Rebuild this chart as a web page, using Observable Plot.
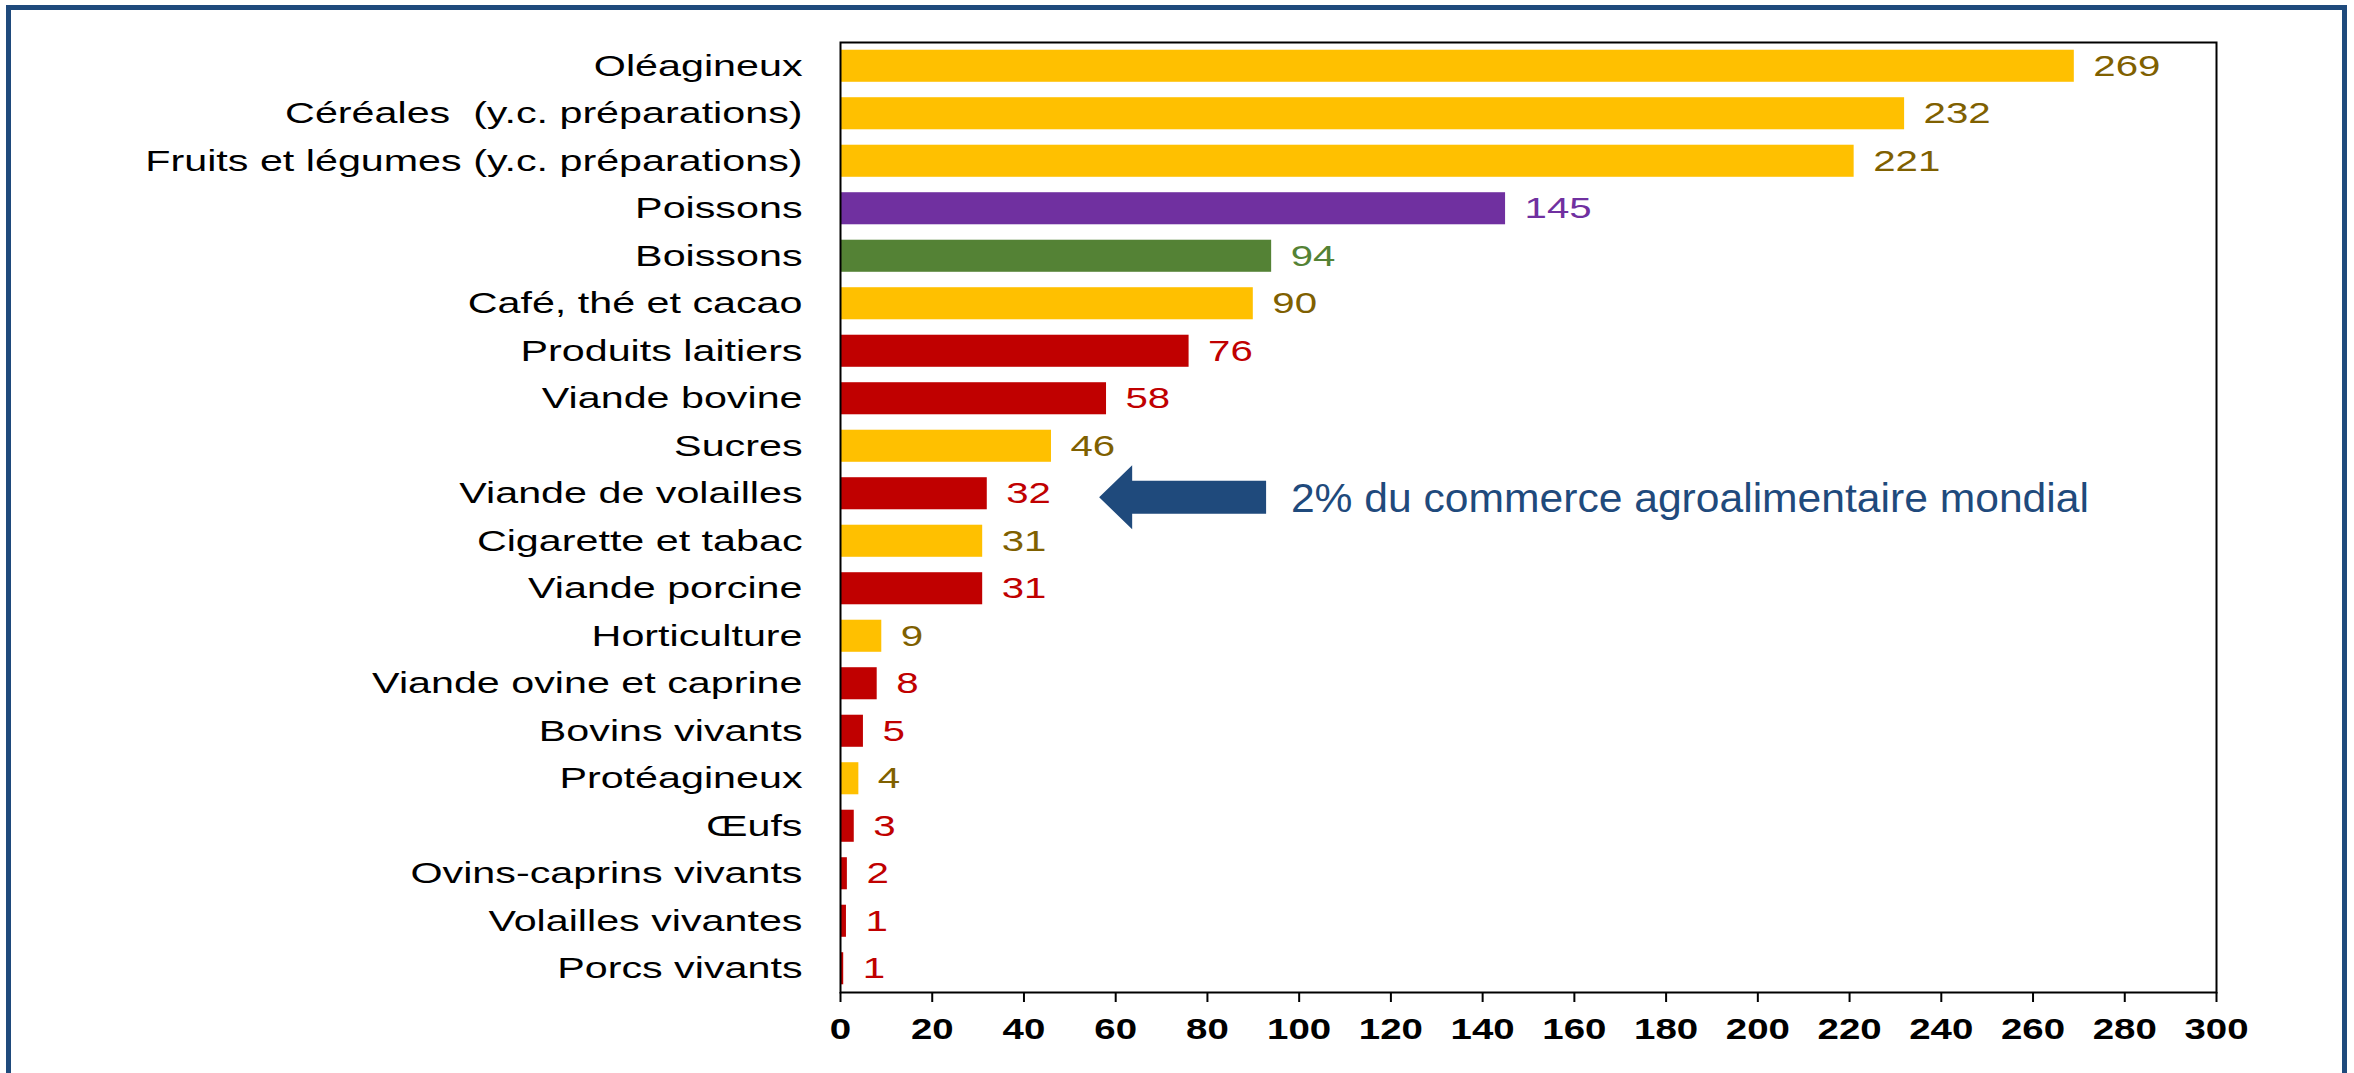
<!DOCTYPE html>
<html><head><meta charset="utf-8">
<script src="https://cdn.jsdelivr.net/npm/d3@7"></script>
<script src="https://cdn.jsdelivr.net/npm/@observablehq/plot@0.6"></script>
<style>
html,body{margin:0;padding:0;background:#fff;overflow:hidden;width:2354px;height:1073px}
#frame{position:absolute;left:6px;top:5px;width:2331px;height:1200px;border:5px solid #1F4A7C;pointer-events:none}
#chart{position:absolute;left:0;top:0}
svg text{white-space:pre}
</style></head><body>
<div id="chart"></div><div id="frame"></div>
<script>
const categories = [
  "Oléagineux",
  "Céréales  (y.c. préparations)",
  "Fruits et légumes (y.c. préparations)",
  "Poissons",
  "Boissons",
  "Café, thé et cacao",
  "Produits laitiers",
  "Viande bovine",
  "Sucres",
  "Viande de volailles",
  "Cigarette et tabac",
  "Viande porcine",
  "Horticulture",
  "Viande ovine et caprine",
  "Bovins vivants",
  "Protéagineux",
  "Œufs",
  "Ovins-caprins vivants",
  "Volailles vivantes",
  "Porcs vivants"
];
const values = [269, 232, 221, 145, 94, 90, 76, 58, 46, 32, 31, 31, 9, 8, 5, 4, 3, 1.5, 1.3, 0.7];
const valueLabels = ["269","232","221","145","94","90","76","58","46","32","31","31","9","8","5","4","3","2","1","1"];
const groups = ["jaune","jaune","jaune","violet","vert","jaune","rouge","rouge","jaune","rouge","jaune","rouge","jaune","rouge","rouge","jaune","rouge","rouge","rouge","rouge"];
const xTicks = [0,20,40,60,80,100,120,140,160,180,200,220,240,260,280,300];
const barColors = {jaune:"#FFC000", rouge:"#C00000", violet:"#7030A0", vert:"#548235"};
const labelColors = {jaune:"#7F6000", rouge:"#C00000", violet:"#7030A0", vert:"#548235"};
const annotation = {text:"2% du commerce agroalimentaire mondial", row:"Viande de volailles", tip:56.5, headBase:63.7, tail:92.9, textX:98.2};

const data = categories.map((c,i)=>({category:c, value:values[i], label:valueLabels[i], group:groups[i]}));
const font = "'Liberation Sans', Arial, sans-serif";
const blue = "#1F4A7C";

const plot = Plot.plot({
  width: 2354, height: 1073,
  marginLeft: 840, marginRight: 138, marginTop: 42, marginBottom: 81,
  style: {fontFamily: font, background: "transparent", color: "black", overflow: "visible"},
  x: {domain: [0, 300], label: null},
  y: {domain: categories, paddingInner: 0.325, paddingOuter: 0.1625, round: false, label: null},
  color: {type: "identity"},
  marks: [
    Plot.barX(data, {y: "category", x: "value", fill: d => barColors[d.group]}),
    Plot.text(data, {y: "category", x: "value", text: "label", fill: d => labelColors[d.group], textAnchor: "start", dx: 19, fontSize: 30}),
    Plot.frame({stroke: "black", strokeWidth: 2}),
    Plot.axisX({ticks: xTicks, tickSize: 10, tickPadding: 15, fontSize: 30, fontWeight: "bold", stroke: "black", strokeWidth: 2, label: null, tickFormat: d => String(d)}),
    Plot.axisY({tickSize: 0, tickPadding: 38, fontSize: 30, label: null}),
    Plot.text([annotation], {x: "textX", y: "row", text: "text", textAnchor: "start", fontSize: 40, dy: 5, fill: blue})
  ]
});
document.getElementById("chart").appendChild(plot);

function stretch(nodes, f) {
  nodes.forEach(t => {
    const l = t.getComputedTextLength();
    t.setAttribute("textLength", (l * f).toFixed(1));
    t.setAttribute("lengthAdjust", "spacingAndGlyphs");
  });
}
stretch(plot.querySelectorAll('g[aria-label="y-axis tick label"] text'), 1.375);
stretch(plot.querySelectorAll('g[aria-label="x-axis tick label"] text'), 1.28);
const textGroups = plot.querySelectorAll('g[aria-label="text"]');
if (textGroups[0]) stretch(textGroups[0].querySelectorAll("text"), 1.34);
if (textGroups[1]) stretch(textGroups[1].querySelectorAll("text"), 1.065);

// block arrow pointing to the annotated row
const xs = plot.scale("x"), ys = plot.scale("y");
const cy = ys.apply(annotation.row) + ys.bandwidth / 2 + 4;
const xt = xs.apply(annotation.tip), xb = xs.apply(annotation.headBase), xe = xs.apply(annotation.tail);
const hh = 32, sh = 16.5;
const p = d3.path();
p.moveTo(xt, cy); p.lineTo(xb, cy - hh); p.lineTo(xb, cy - sh); p.lineTo(xe, cy - sh);
p.lineTo(xe, cy + sh); p.lineTo(xb, cy + sh); p.lineTo(xb, cy + hh); p.closePath();
d3.select(plot).append("path").attr("d", p.toString()).attr("fill", blue);
</script>
</body></html>
